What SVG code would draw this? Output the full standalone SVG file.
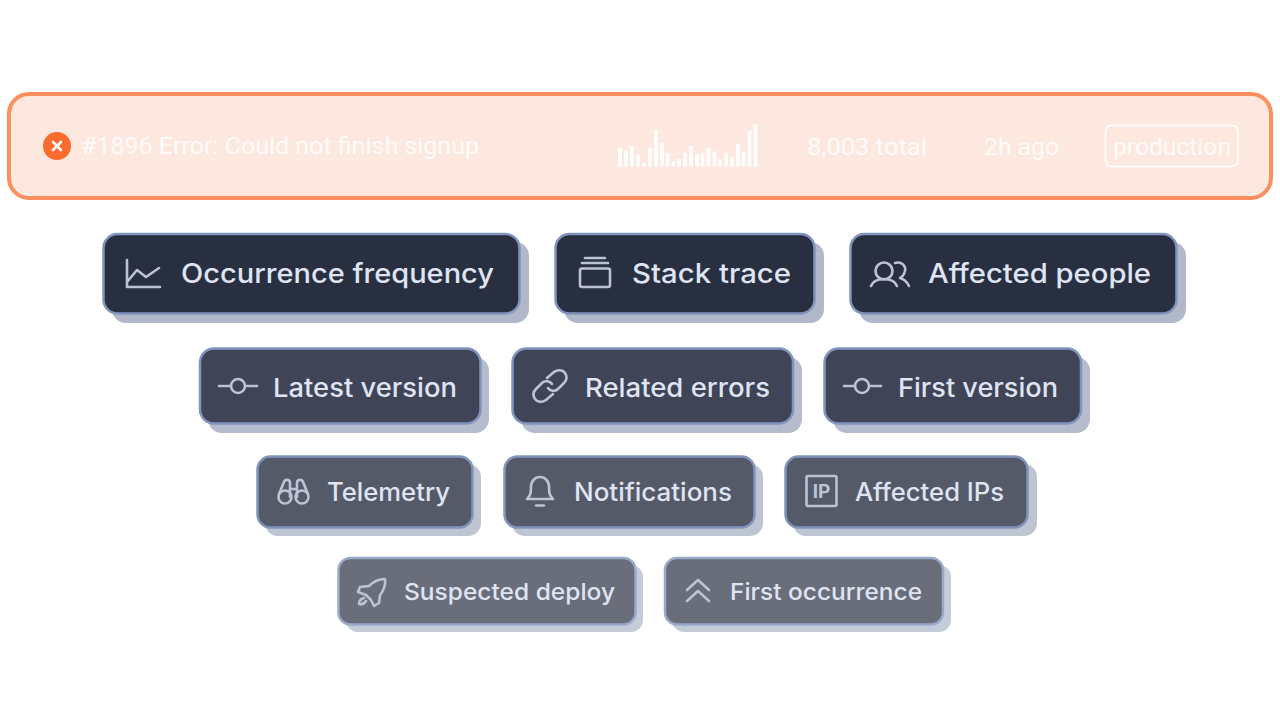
<svg xmlns="http://www.w3.org/2000/svg" width="1280" height="720" viewBox="0 0 1280 720">
<style>
.sh{fill:#b0b8ca}
.bx{stroke:#8094bc;stroke-width:2.5}
.t{font-family:"Inter","Noto Sans",sans-serif;font-weight:500;fill:#dfe4f2}
.i{fill:none;stroke:#bcc3d4;stroke-width:2.6;stroke-linecap:round;stroke-linejoin:round}
.h{font-family:"Roboto","Liberation Sans",sans-serif;font-size:24px;fill:#fff;fill-opacity:.85;font-weight:400}
.r1 .bx{fill:#282f40}.r1 .t{font-size:27px}
.r2 .bx{fill:#3f4556}.r2 .t{font-size:26px}
.r2 .sh{fill:#b5bccd}
.r3 .bx{fill:#555a68}.r3 .t{font-size:25px}.r3 .sh{fill:#bdc4d2}
.r4 .bx{fill:#6a6e7b;stroke:#98a9ca}.r4 .t{font-size:23.5px}.r4 .sh{fill:#c5ccd9}
</style>
<g id="banner">
<rect x="9" y="94" width="1262" height="104" rx="20" fill="#fde8e0" stroke="#ff8e5e" stroke-width="4"/>
<circle cx="57" cy="146" r="14" fill="#f96c2d"/>
<path d="M53 142l8 8M61 142l-8 8" stroke="#fff" stroke-width="2.600" stroke-linecap="round"/>
<text class="h" x="81" y="154" textLength="398" lengthAdjust="spacingAndGlyphs">#1896 Error: Could not finish signup</text>
<path fill="#fff" fill-opacity=".9" d="M618 147.500h4v19h-4zM624 150.500h4v16h-4zM630 146h4v20.500h-4zM636 155h4v11.500h-4zM642 162.500h4v4h-4zM648 147.500h4v19h-4zM654 130h4v36.500h-4zM660 142.500h4v24h-4zM665.500 153h4v13.500h-4zM671.500 161h4v5.500h-4zM677 159h4v7.500h-4zM683 152.500h4v14h-4zM689 146h4v20.500h-4zM695 154.500h4v12h-4zM700.500 153h4v13.500h-4zM706.500 147.500h4v19h-4zM712.500 151.500h4v15h-4zM718 159h4v7.500h-4zM724 152.500h4v14h-4zM730 157h4v9.500h-4zM736 144h4v22.500h-4zM741.500 151.500h4v15h-4zM747.500 131h4v35.500h-4zM753.500 124.500h4v42h-4z"/>
<text class="h" x="807" y="155" textLength="120" lengthAdjust="spacingAndGlyphs">8,003 total</text>
<text class="h" x="984" y="155" textLength="75" lengthAdjust="spacingAndGlyphs">2h ago</text>
<rect x="1105.500" y="125.500" width="132.500" height="41" rx="6" fill="none" stroke="#fff" stroke-opacity=".9" stroke-width="1.800"/>
<text class="h" x="1113" y="155" textLength="118" lengthAdjust="spacingAndGlyphs">production</text>
</g>
<g class="r1">
<g id="occurrence-frequency"><rect class="sh" x="112" y="242" width="417" height="81" rx="14"/><rect class="bx" x="103.500" y="234" width="416" height="79.500" rx="14"/>
<path class="i" d="M127 260v27h33M127 282l10-12 9 7 13-9"/>
<text class="t" x="181" y="283" textLength="313" lengthAdjust="spacingAndGlyphs">Occurrence frequency</text></g>
<g id="stack-trace"><rect class="sh" x="564" y="242" width="260" height="81" rx="14"/><rect class="bx" x="555.500" y="234" width="259" height="79.500" rx="14"/>
<path class="i" d="M585 258h20M582 263h26"/><rect class="i" x="580" y="268.500" width="30" height="18.500" rx="2"/>
<text class="t" x="632" y="283" textLength="159" lengthAdjust="spacingAndGlyphs">Stack trace</text></g>
<g id="affected-people"><rect class="sh" x="859" y="242" width="327" height="81" rx="14"/><rect class="bx" x="850.500" y="234" width="326" height="79.500" rx="14"/>
<circle class="i" cx="884" cy="271" r="8.500"/><path class="i" d="M871 286c2-5 7-7 13-7s11 2 13 7M895 263c7-2 11 3 10 8-1 4-3 6-5 7 4 1 7 4 9 8"/>
<text class="t" x="928" y="283" textLength="223" lengthAdjust="spacingAndGlyphs">Affected people</text></g>
</g>
<g class="r2">
<g id="latest-version"><rect class="sh" x="208" y="357" width="281" height="76" rx="14"/><rect class="bx" x="200" y="348.500" width="280.500" height="75" rx="14"/>
<circle class="i" cx="238" cy="386" r="7"/><path class="i" d="M219 386h12M245 386h12"/>
<text class="t" x="273" y="396.500" textLength="184" lengthAdjust="spacingAndGlyphs">Latest version</text></g>
<g id="related-errors"><rect class="sh" x="521" y="357" width="281" height="76" rx="14"/><rect class="bx" x="512.500" y="348.500" width="280.500" height="75" rx="14"/>
<path class="i" d="M547 378l7-6c4-3 9-2 11 1 2 3 2 7-1 10l-6 6c-3 3-8 2-10-1M553 394l-7 6c-4 3-9 2-11-1-2-3-2-7 1-10l6-6c3-3 8-2 10 1"/>
<text class="t" x="585" y="396.500" textLength="185" lengthAdjust="spacingAndGlyphs">Related errors</text></g>
<g id="first-version"><rect class="sh" x="833" y="357" width="257" height="76" rx="14"/><rect class="bx" x="824.500" y="348.500" width="256.500" height="75" rx="14"/>
<circle class="i" cx="862" cy="386" r="7"/><path class="i" d="M844 386h11M869 386h12"/>
<text class="t" x="898" y="396.500" textLength="160" lengthAdjust="spacingAndGlyphs">First version</text></g>
</g>
<g class="r3">
<g id="telemetry"><rect class="sh" x="265" y="464" width="216" height="72" rx="13"/><rect class="bx" x="257.500" y="456.500" width="215" height="71" rx="13"/>
<circle class="i" cx="285" cy="497" r="6.500"/><circle class="i" cx="302" cy="497" r="6.500"/><path class="i" d="M279 494l5-12c1-3 6-3 6 1v14M308 494l-5-12c-1-3-6-3-6 1v14M290 489h7"/>
<text class="t" x="327" y="501" textLength="123" lengthAdjust="spacingAndGlyphs">Telemetry</text></g>
<g id="notifications"><rect class="sh" x="512" y="464" width="251" height="72" rx="13"/><rect class="bx" x="504.500" y="456.500" width="250" height="71" rx="13"/>
<path class="i" d="M527 499c3-3 4-5 4-12 0-6 4-10 9-10s9 4 9 10c0 7 1 9 4 12zM536 505.500h8"/>
<text class="t" x="574" y="501" textLength="158" lengthAdjust="spacingAndGlyphs">Notifications</text></g>
<g id="affected-ips"><rect class="sh" x="793" y="464" width="244" height="72" rx="13"/><rect class="bx" x="785.500" y="456.500" width="242" height="71" rx="13"/>
<rect class="i" x="806.500" y="476" width="30" height="30" rx="1.500"/><text x="821.500" y="498" text-anchor="middle" font-family="Inter,sans-serif" font-weight="700" font-size="19" fill="#bcc3d4">IP</text>
<text class="t" x="855" y="501" textLength="149" lengthAdjust="spacingAndGlyphs">Affected IPs</text></g>
</g>
<g class="r4">
<g id="suspected-deploy"><rect class="sh" x="346" y="565" width="297" height="67" rx="12"/><rect class="bx" x="338.500" y="558" width="297" height="66.500" rx="12"/>
<path class="i" d="M385 579c-7 0-12 3-16 7l-9 1-2 5 8 3 5 5 3 6 5-3 1-8c4-5 6-9 5-16zM364 598c-4 1-5 3-5 6 3 1 5 0 7-3"/>
<text class="t" x="404" y="600" textLength="211" lengthAdjust="spacingAndGlyphs">Suspected deploy</text></g>
<g id="first-occurrence"><rect class="sh" x="672" y="565" width="279" height="67" rx="12"/><rect class="bx" x="665" y="558" width="278" height="66.500" rx="12"/>
<path class="i" d="M687 590l11-10 11 10M687 601l11-10 11 10"/>
<text class="t" x="730" y="600" textLength="192" lengthAdjust="spacingAndGlyphs">First occurrence</text></g>
</g>
</svg>
